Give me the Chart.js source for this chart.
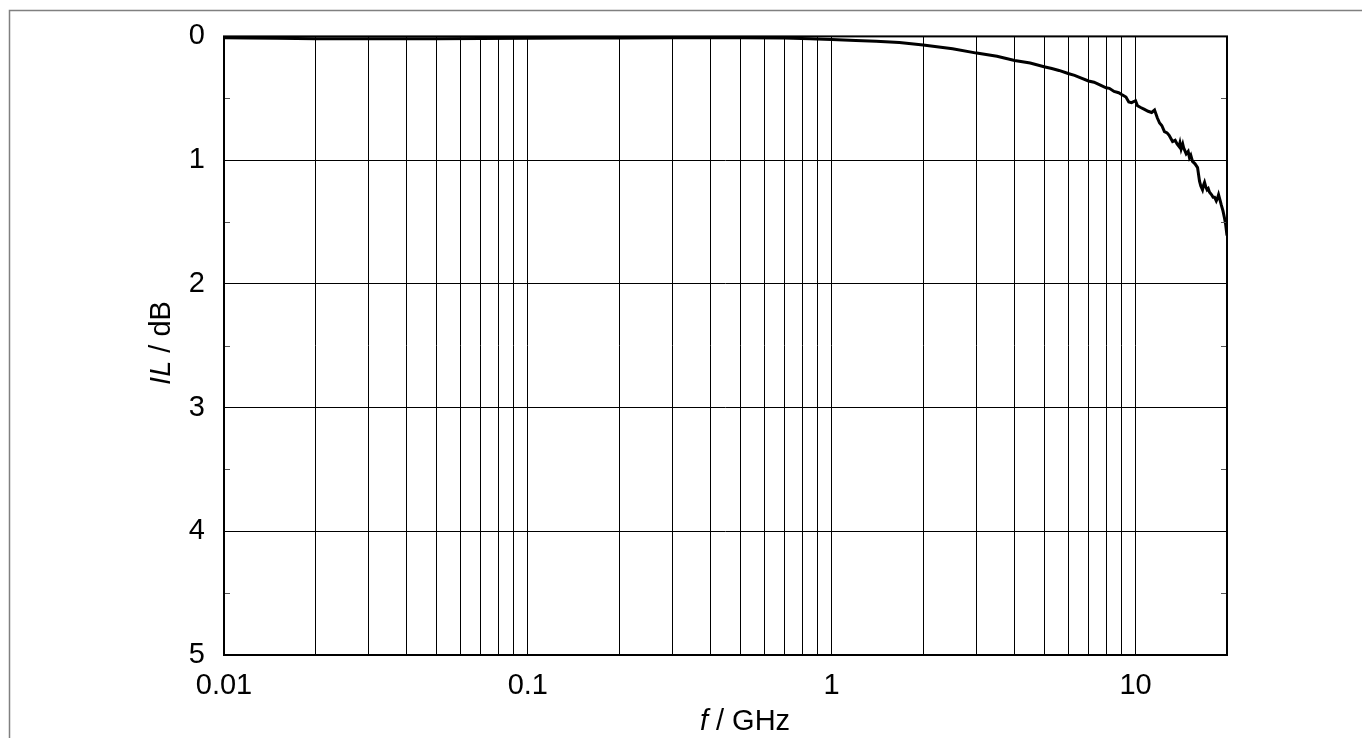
<!DOCTYPE html>
<html>
<head>
<meta charset="utf-8">
<script src="https://cdn.jsdelivr.net/npm/chart.js@4/dist/chart.umd.min.js"></script>
<style>
  html, body { margin: 0; padding: 0; background: #fff; }
  #wrap { width: 1362px; height: 738px; }
</style>
</head>
<body>
<div id="wrap"><canvas id="ilChart"></canvas></div>
<script>
// frequency in GHz, insertion loss in dB
const freqs = [0.01, 0.012, 0.015, 0.02, 0.03, 0.05, 0.07, 0.1, 0.15, 0.2, 0.3, 0.5, 0.7, 0.85,
    1.0, 1.2, 1.4, 1.67, 2.0, 2.5, 3.0, 3.5, 4.0, 4.5,
    5.0, 5.3, 5.6, 6.0, 6.3, 6.6, 7.0, 7.3, 7.6, 8.0, 8.2, 8.5, 8.8, 9.0, 9.3, 9.5, 9.7,
    10.0, 10.15, 10.4, 10.7, 11.0, 11.3, 11.55, 11.8, 12.0, 12.2, 12.45, 12.7, 12.9, 13.1,
    13.24, 13.5, 13.7, 13.9, 14.0, 14.13, 14.3, 14.4, 14.68, 14.9, 15.05, 15.2, 15.4, 15.7,
    16.0, 16.24, 16.4, 16.61, 16.75, 16.87, 17.05, 17.2, 17.35, 17.52, 17.8, 18.0, 18.2,
    18.44, 18.6, 18.76, 19.0, 19.14, 19.4, 19.63, 19.8, 20.0];
const ilValues = [0.01, 0.012, 0.015, 0.018, 0.019, 0.018, 0.017, 0.015, 0.013, 0.012, 0.011, 0.011, 0.013, 0.018,
    0.025, 0.033, 0.04, 0.05, 0.07, 0.10, 0.135, 0.16, 0.195, 0.215,
    0.245, 0.26, 0.275, 0.30, 0.315, 0.335, 0.36, 0.37, 0.39, 0.415, 0.42, 0.445, 0.455, 0.47, 0.49, 0.53, 0.535,
    0.52, 0.56, 0.575, 0.59, 0.605, 0.615, 0.595, 0.66, 0.70, 0.72, 0.77, 0.78, 0.80, 0.83,
    0.85, 0.84, 0.87, 0.89, 0.86, 0.91, 0.87, 0.90, 0.95, 0.93, 0.98, 0.96, 1.01, 1.03,
    1.06, 1.17, 1.21, 1.24, 1.20, 1.18, 1.22, 1.24, 1.23, 1.26, 1.28, 1.30, 1.30,
    1.33, 1.31, 1.28, 1.33, 1.36, 1.41, 1.47, 1.52, 1.61];

// grid positions on the log axis, and the ones that get a label
const xTickValues = [0.01, 0.02, 0.03, 0.04, 0.05, 0.06, 0.07, 0.08, 0.09,
    0.1, 0.2, 0.3, 0.4, 0.5, 0.6, 0.7, 0.8, 0.9,
    1, 2, 3, 4, 5, 6, 7, 8, 9,
    10, 20];
const xTickLabels = [0.01, 0.1, 1, 10];
const yTickValues = [0, 0.5, 1, 1.5, 2, 2.5, 3, 3.5, 4, 4.5, 5];

const FONT = "'Liberation Sans', Arial, sans-serif";

const points = freqs.map((f, i) => ({ x: f, y: ilValues[i] }));

// frame, minor ticks, axis titles with italic symbol
const decorPlugin = {
    id: 'decor',
    beforeDraw(chart) {
        const ctx = chart.ctx;
        ctx.save();
        ctx.strokeStyle = '#808080';
        ctx.lineWidth = 1.5;
        ctx.strokeRect(9.5, 10.5, 2000, 2000);
        ctx.restore();
    },
    afterDraw(chart) {
        const ctx = chart.ctx;
        const a = chart.chartArea;
        const yScale = chart.scales.y;
        ctx.save();

        // minor ticks at the half steps, inside on both sides
        ctx.strokeStyle = '#555';
        ctx.lineWidth = 1;
        yTickValues.forEach(v => {
            if (Number.isInteger(v)) return;
            const py = Math.round(yScale.getPixelForValue(v)) + 0.5;
            ctx.beginPath();
            ctx.moveTo(a.left, py); ctx.lineTo(a.left + 6, py);
            ctx.moveTo(a.right - 6, py); ctx.lineTo(a.right, py);
            ctx.stroke();
        });

        // plot frame
        ctx.strokeStyle = '#000';
        ctx.lineWidth = 2;
        ctx.strokeRect(a.left, a.top, a.right - a.left, a.bottom - a.top);

        // axis titles
        ctx.fillStyle = '#000';
        ctx.textBaseline = 'middle';
        ctx.textAlign = 'left';
        drawMixed(ctx, 'f', ' / GHz', 745, 722, 0);
        drawMixed(ctx, 'IL', ' / dB', 162, 343, -Math.PI / 2);
        ctx.restore();
    }
};

function drawMixed(ctx, sym, rest, cx, cy, rot) {
    const italic = 'italic 29px ' + FONT;
    const normal = '29px ' + FONT;
    ctx.font = italic;
    const w1 = ctx.measureText(sym).width;
    ctx.font = normal;
    const w2 = ctx.measureText(rest).width;
    ctx.save();
    ctx.translate(cx, cy);
    ctx.rotate(rot);
    const start = -(w1 + w2) / 2;
    ctx.font = italic;
    ctx.fillText(sym, start, 0);
    ctx.font = normal;
    ctx.fillText(rest, start + w1, 0);
    ctx.restore();
}

new Chart(document.querySelector('#ilChart'), {
    type: 'line',
    data: {
        datasets: [{
            label: 'IL',
            data: points,
            borderColor: '#000',
            borderWidth: 3,
            pointRadius: 0,
            tension: 0,
            fill: false
        }]
    },
    options: {
        responsive: true,
        maintainAspectRatio: false,
        animation: false,
        layout: { padding: { top: 35, right: 135, left: 0, bottom: 0 } },
        plugins: {
            legend: { display: false },
            tooltip: { enabled: false }
        },
        scales: {
            x: {
                type: 'logarithmic',
                min: 0.01,
                max: 20,
                afterBuildTicks: scale => {
                    scale.ticks = xTickValues.map(v => ({ value: v }));
                },
                afterFit: scale => { scale.height = 83; },
                ticks: {
                    autoSkip: false,
                    maxRotation: 0,
                    padding: 14,
                    color: '#000',
                    font: { family: FONT, size: 29 },
                    callback: v => xTickLabels.some(t => Math.abs(t - v) < 1e-9) ? String(v) : ''
                },
                grid: { color: '#000', lineWidth: 1, drawTicks: false },
                border: { display: false }
            },
            y: {
                type: 'linear',
                reverse: true,
                min: 0,
                max: 5,
                afterBuildTicks: scale => {
                    scale.ticks = yTickValues.map(v => ({ value: v }));
                },
                afterFit: scale => { scale.width = 224; },
                ticks: {
                    autoSkip: false,
                    padding: 19,
                    color: '#000',
                    font: { family: FONT, size: 29 },
                    callback: v => Number.isInteger(v) ? String(v) : ''
                },
                grid: {
                    color: c => Number.isInteger(c.tick.value) ? '#000' : 'rgba(0,0,0,0)',
                    lineWidth: 1,
                    drawTicks: false
                },
                border: { display: false }
            }
        }
    },
    plugins: [decorPlugin]
});
</script>
</body>
</html>
